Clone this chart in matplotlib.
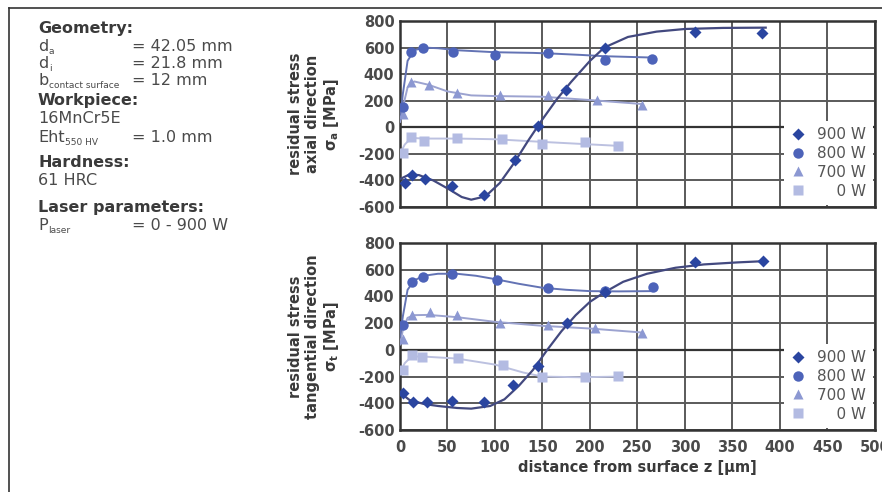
import matplotlib
matplotlib.use("Agg")
import matplotlib.pyplot as plt
from matplotlib.lines import Line2D

plt.rcParams['font.family'] = ['DejaVu Sans']
plt.rcParams['mathtext.default'] = 'regular'
plt.rcParams['axes.unicode_minus'] = False

# series labels
labels = ['900 W', '800 W', '700 W', '\u2007\u20070 W']

# --- axial direction (top) : measured points ---
top_900_x = [5, 13, 26, 55, 88, 121, 145, 175, 216, 311, 381]
top_900_y = [-420, -360, -390, -445, -510, -245, 10, 280, 600, 715, 710]
top_800_x = [3, 12, 24, 56, 100, 156, 216, 265]
top_800_y = [150, 565, 600, 565, 545, 560, 510, 515]
top_700_x = [3, 12, 31, 60, 105, 156, 207, 255]
top_700_y = [100, 340, 315, 255, 240, 245, 205, 170]
top_0_x = [3, 12, 25, 60, 107, 150, 195, 230]
top_0_y = [-190, -75, -105, -80, -85, -125, -110, -140]

# trend lines
top_900_cx = [0, 10, 20, 35, 50, 65, 75, 90, 105, 120, 135, 150, 165, 180, 200, 215, 240, 270, 300, 340, 385]
top_900_cy = [-390, -355, -360, -400, -460, -525, -545, -520, -420, -270, -100, 60, 210, 340, 500, 600, 680, 720, 740, 748, 750]
top_800_cx = [0, 3, 8, 15, 25, 40, 60, 100, 140, 160, 190, 215, 240, 265]
top_800_cy = [60, 250, 500, 580, 600, 595, 580, 565, 560, 555, 545, 535, 530, 525]
top_700_cx = [0, 3, 8, 15, 30, 50, 75, 100, 150, 200, 255]
top_700_cy = [40, 150, 300, 345, 320, 270, 240, 235, 230, 205, 175]
top_0_cx = [0, 5, 12, 25, 60, 100, 150, 190, 230]
top_0_cy = [-200, -130, -80, -85, -85, -90, -110, -125, -140]

# --- tangential direction (bottom) : measured points ---
bot_900_x = [3, 14, 28, 55, 88, 119, 145, 176, 216, 311, 382]
bot_900_y = [-325, -390, -390, -385, -390, -265, -120, 200, 435, 660, 665]
bot_800_x = [3, 13, 24, 55, 102, 156, 216, 266]
bot_800_y = [185, 510, 545, 565, 525, 465, 440, 470]
bot_700_x = [3, 13, 32, 60, 105, 156, 205, 255]
bot_700_y = [80, 260, 280, 260, 200, 185, 165, 126]
bot_0_x = [3, 13, 23, 61, 108, 150, 195, 230]
bot_0_y = [-150, -40, -55, -60, -115, -200, -205, -195]

bot_900_cx = [0, 10, 25, 40, 60, 75, 95, 110, 125, 140, 155, 170, 185, 200, 215, 235, 260, 290, 320, 355, 385]
bot_900_cy = [-320, -375, -405, -420, -435, -440, -420, -370, -270, -150, 0, 140, 260, 360, 430, 510, 570, 615, 640, 655, 665]
bot_800_cx = [0, 3, 8, 15, 25, 40, 60, 80, 100, 125, 150, 175, 200, 230, 265]
bot_800_cy = [100, 250, 450, 520, 555, 570, 570, 555, 530, 495, 465, 450, 440, 438, 440]
bot_700_cx = [0, 3, 8, 15, 30, 60, 100, 150, 200, 255]
bot_700_cy = [40, 150, 240, 260, 262, 245, 210, 180, 160, 130]
bot_0_cx = [0, 5, 12, 25, 60, 100, 130, 150, 190, 230]
bot_0_cy = [-170, -100, -50, -50, -65, -110, -170, -200, -205, -200]

marker_colors = ['#2a45a0', '#4d63b9', '#8c98d2', '#b3bbe2']
line_colors = ['#43497f', '#6373b4', '#9ca3d0', '#bcc1e0']
markers = ['D', 'o', '^', 's']
msizes = [6.5, 7.5, 7, 6.5]

fig = plt.figure(figsize=(8.82, 4.92), dpi=100)
ax1 = fig.add_axes([0.4535, 0.5793, 0.5385, 0.378])
ax2 = fig.add_axes([0.4535, 0.126, 0.5385, 0.380])

panels = [
    (ax1, [(top_900_x, top_900_y), (top_800_x, top_800_y), (top_700_x, top_700_y), (top_0_x, top_0_y)],
     [(top_900_cx, top_900_cy), (top_800_cx, top_800_cy), (top_700_cx, top_700_cy), (top_0_cx, top_0_cy)],
     'residual stress\naxial direction\n$\\sigma_a$ [MPa]'),
    (ax2, [(bot_900_x, bot_900_y), (bot_800_x, bot_800_y), (bot_700_x, bot_700_y), (bot_0_x, bot_0_y)],
     [(bot_900_cx, bot_900_cy), (bot_800_cx, bot_800_cy), (bot_700_cx, bot_700_cy), (bot_0_cx, bot_0_cy)],
     'residual stress\ntangential direction\n$\\sigma_t$ [MPa]'),
]

for ax, pts, curves, ylab in panels:
    # lighter series first so that 900 W ends on top
    for i in [3, 2, 1, 0]:
        cx, cy = curves[i]
        ax.plot(cx, cy, color=line_colors[i], lw=1.6 if i == 0 else 1.4, zorder=3 + (3 - i))
    for i in [3, 2, 1, 0]:
        x, y = pts[i]
        ax.plot(x, y, linestyle='none', marker=markers[i], ms=msizes[i],
                color=marker_colors[i], mec='none', zorder=10 + (3 - i))
    handles = [Line2D([], [], linestyle='none', marker=markers[i], ms=msizes[i],
                      color=marker_colors[i], mec='none') for i in range(4)]
    ax.set_xlim(0, 500)
    ax.set_ylim(-600, 800)
    ax.set_xticks(range(0, 501, 50))
    ax.set_yticks(range(-600, 801, 200))
    ax.grid(True, color='#5a5a5a', lw=1.4)
    ax.axhline(0, color='#333333', lw=1.6, zorder=2)
    ax.set_axisbelow(True)
    for s in ax.spines.values():
        s.set_color('#333333')
        s.set_linewidth(1.8)
    ax.tick_params(axis='y', length=0, labelsize=10.5, labelcolor='#4a4a4a', pad=4)
    ax.tick_params(axis='x', length=0, labelsize=10.5, labelcolor='#4a4a4a', pad=7)
    for t in ax.get_yticklabels() + ax.get_xticklabels():
        t.set_fontweight('bold')
    ax.set_ylabel(ylab, fontsize=10.5, fontweight='bold', color='#3a3a3a', labelpad=12, linespacing=1.15)
    leg = ax.legend(handles, labels, loc='lower right', bbox_to_anchor=(1.0, 0.0),
                    frameon=True, fancybox=False, framealpha=1, facecolor='white',
                    edgecolor='none', fontsize=11, handletextpad=0.8, labelspacing=0.25,
                    borderpad=0.4, borderaxespad=0.15, handlelength=1.0, labelcolor='#555555')
    leg.set_zorder(20)

ax1.set_xticklabels([])
ax2.set_xlabel('distance from surface z [µm]', fontsize=10.5, fontweight='bold',
               color='#3a3a3a', labelpad=4)

# left info block
txt = dict(fontsize=11.5, color='#4a4a4a', va='baseline')
bold = dict(fontsize=11.5, color='#3a3a3a', va='baseline', fontweight='bold')
xl, xr = 38 / 882, 132 / 882


def fy(py):
    return 1 - py / 492


def sub_label(py, base, sub):
    t = fig.text(xl, fy(py), base, **txt)
    return fig.add_artist(plt.Annotation(sub, xy=(1, 0), xycoords=t, xytext=(0.5, 0),
                                         textcoords='offset points', fontsize=6.5,
                                         color='#4a4a4a', ha='left', va='baseline',
                                         annotation_clip=False))


fig.text(xl, fy(33), 'Geometry:', **bold)
sub_label(51, 'd', 'a')
fig.text(xr, fy(51), '= 42.05 mm', **txt)
sub_label(68, 'd', 'i')
fig.text(xr, fy(68), '= 21.8 mm', **txt)
sub_label(85, 'b', 'contact surface')
fig.text(xr, fy(85), '= 12 mm', **txt)
fig.text(xl, fy(105), 'Workpiece:', **bold)
fig.text(xl, fy(123), '16MnCr5E', **txt)
sub_label(142, 'Eht', '550 HV')
fig.text(xr, fy(142), '= 1.0 mm', **txt)
fig.text(xl, fy(167), 'Hardness:', **bold)
fig.text(xl, fy(185), '61 HRC', **txt)
fig.text(xl, fy(212), 'Laser parameters:', **bold)
sub_label(230, 'P', 'laser')
fig.text(xr, fy(230), '= 0 - 900 W', **txt)

# outer frame (top and left edge)
fig.add_artist(Line2D([9 / 882, 9 / 882], [0, fy(8)], color='#333333', lw=1.2))
fig.add_artist(Line2D([9 / 882, 1], [fy(8), fy(8)], color='#333333', lw=1.2))

fig.savefig('out.png', dpi=100)
